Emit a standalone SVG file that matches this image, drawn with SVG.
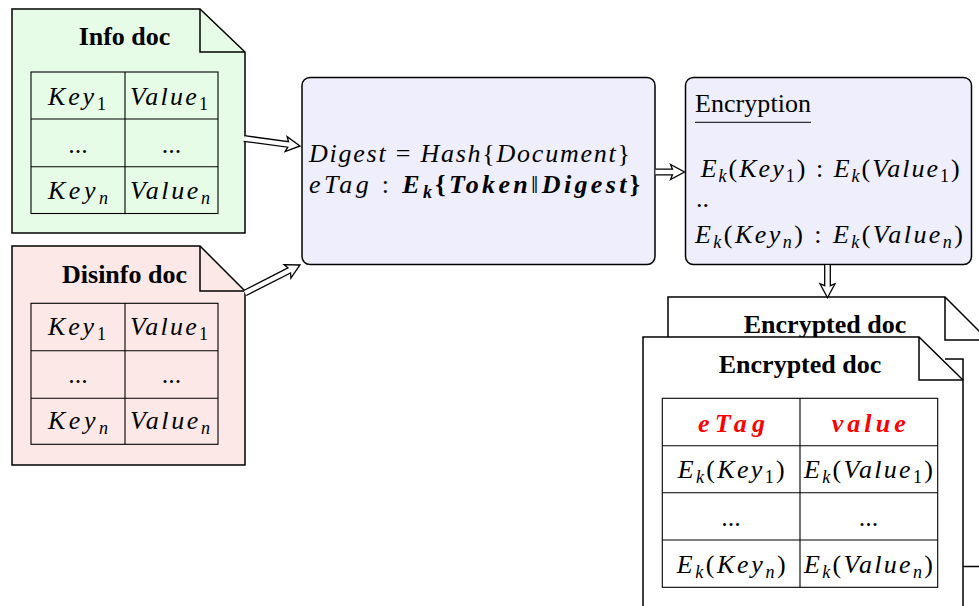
<svg xmlns="http://www.w3.org/2000/svg" width="979" height="606" viewBox="0 0 979 606">
<style>
text{font-family:"Liberation Serif","Times New Roman",serif;fill:#000}
.title{font-weight:bold;font-size:26px}
.m{font-size:26px}
.i{font-style:italic}
.b{font-weight:bold}
.sub{font-size:18px}
.red{fill:#ff0000}
.doc{stroke:#000;stroke-width:1.5}
.fold{fill:none;stroke:#000;stroke-width:1.5}
.tbl{fill:none;stroke:#000;stroke-width:1.1}
.box{fill:#eeeefc;stroke:#000;stroke-width:1.5}
.arr{fill:#fff;stroke:#000;stroke-width:1.3;stroke-linejoin:miter}
</style>
<rect width="979" height="606" fill="#fff"/>

<g id="info-doc">
<path class="doc" fill="#e6fce6" d="M12,9 H200 L245,52 V233 H12 Z"/>
<path class="fold" d="M200,9 V52 H245"/>
<text class="title" x="124.5" y="45" text-anchor="middle">Info doc</text>
<rect class="tbl" x="31" y="72" width="187" height="141.5"/>
<path class="tbl" d="M125,72 V213.5 M31,119 H218 M31,166.7 H218"/>
<text class="m" x="48" y="105" textLength="58" lengthAdjust="spacing"><tspan class="i">Key</tspan><tspan class="sub" dy="5">1</tspan></text>
<text class="m" x="130" y="105" textLength="78" lengthAdjust="spacing"><tspan class="i">Value</tspan><tspan class="sub" dy="5">1</tspan></text>
<text class="m" x="78" y="153" text-anchor="middle">...</text>
<text class="m" x="171.5" y="153" text-anchor="middle">...</text>
<text class="m" x="48" y="199" textLength="60" lengthAdjust="spacing"><tspan class="i">Key</tspan><tspan class="i sub" dy="5">n</tspan></text>
<text class="m" x="130" y="199" textLength="80" lengthAdjust="spacing"><tspan class="i">Value</tspan><tspan class="i sub" dy="5">n</tspan></text>
</g>

<g id="disinfo-doc">
<path class="doc" fill="#fde8e8" d="M12,246 H200 L245,291 V465 H12 Z"/>
<path class="fold" d="M200,246 V291 H245"/>
<text class="title" x="124.5" y="283" text-anchor="middle">Disinfo doc</text>
<rect class="tbl" x="31" y="303.3" width="187" height="141"/>
<path class="tbl" d="M125,303.3 V444.3 M31,350.7 H218 M31,398.3 H218"/>
<text class="m" x="48" y="335" textLength="58" lengthAdjust="spacing"><tspan class="i">Key</tspan><tspan class="sub" dy="5">1</tspan></text>
<text class="m" x="130" y="335" textLength="78" lengthAdjust="spacing"><tspan class="i">Value</tspan><tspan class="sub" dy="5">1</tspan></text>
<text class="m" x="78" y="383" text-anchor="middle">...</text>
<text class="m" x="171.5" y="383" text-anchor="middle">...</text>
<text class="m" x="48" y="429" textLength="60" lengthAdjust="spacing"><tspan class="i">Key</tspan><tspan class="i sub" dy="5">n</tspan></text>
<text class="m" x="130" y="429" textLength="80" lengthAdjust="spacing"><tspan class="i">Value</tspan><tspan class="i sub" dy="5">n</tspan></text>
</g>

<g id="hash-box">
<rect class="box" x="302" y="77.5" width="353" height="187" rx="8" ry="8"/>
<text class="m" x="309" y="162" textLength="321" lengthAdjust="spacing"><tspan class="i">Digest</tspan><tspan> = </tspan><tspan class="i">Hash</tspan><tspan>{</tspan><tspan class="i">Document</tspan><tspan>}</tspan></text>
<text class="m" x="309" y="193" textLength="331" lengthAdjust="spacing"><tspan class="i">eTag</tspan><tspan> : </tspan><tspan class="i b">E</tspan><tspan class="i b sub" dy="5">k</tspan><tspan class="b" dy="-5">{</tspan><tspan class="i b">Token</tspan><tspan>‖</tspan><tspan class="i b">Digest</tspan><tspan class="b">}</tspan></text>
</g>

<g id="encryption-box">
<rect class="box" x="685.5" y="77.5" width="286" height="187" rx="8" ry="8"/>
<text class="m" x="695" y="112" textLength="116" lengthAdjust="spacing">Encryption</text>
<line x1="695" y1="122.3" x2="811" y2="122.3" stroke="#000" stroke-width="1"/>
<text class="m" x="700.7" y="177" textLength="259" lengthAdjust="spacing"><tspan class="i">E</tspan><tspan class="i sub" dy="5">k</tspan><tspan dy="-5">(</tspan><tspan class="i">Key</tspan><tspan class="sub" dy="5">1</tspan><tspan dy="-5">) : </tspan><tspan class="i">E</tspan><tspan class="i sub" dy="5">k</tspan><tspan dy="-5">(</tspan><tspan class="i">Value</tspan><tspan class="sub" dy="5">1</tspan><tspan dy="-5">)</tspan></text>
<text class="m" x="696" y="207">..</text>
<text class="m" x="695" y="243" textLength="268" lengthAdjust="spacing"><tspan class="i">E</tspan><tspan class="i sub" dy="5">k</tspan><tspan dy="-5">(</tspan><tspan class="i">Key</tspan><tspan class="i sub" dy="5">n</tspan><tspan dy="-5">) : </tspan><tspan class="i">E</tspan><tspan class="i sub" dy="5">k</tspan><tspan dy="-5">(</tspan><tspan class="i">Value</tspan><tspan class="i sub" dy="5">n</tspan><tspan dy="-5">)</tspan></text>
</g>

<g id="encrypted-doc-back">
<path class="doc" fill="#fff" d="M668,620 V297 H945 L988,340 V620"/>
<path class="fold" d="M945,297 V340 H988"/>
<text class="title" x="825" y="333" text-anchor="middle">Encrypted doc</text>
<path class="fold" d="M963,566.5 H979"/>
<path class="fold" d="M945,359 H963 V380"/>
</g>

<g id="encrypted-doc">
<path class="doc" fill="#fff" d="M643,620 V337 H919 L963,380 V620"/>
<path class="fold" d="M919,337 V380 H963"/>
<text class="title" x="800" y="373" text-anchor="middle">Encrypted doc</text>
<rect class="tbl" x="662.3" y="398.3" width="275.4" height="189"/>
<path class="tbl" d="M800,398.3 V587.3 M662.3,445.7 H937.7 M662.3,492.7 H937.7 M662.3,540 H937.7"/>
<text class="m i b red" x="698" y="431.7" textLength="67" lengthAdjust="spacing">eTag</text>
<text class="m i b red" x="831.7" y="431.7" textLength="74" lengthAdjust="spacing">value</text>
<text class="m" x="677.7" y="478.3" textLength="107" lengthAdjust="spacing"><tspan class="i">E</tspan><tspan class="i sub" dy="5">k</tspan><tspan dy="-5">(</tspan><tspan class="i">Key</tspan><tspan class="sub" dy="5">1</tspan><tspan dy="-5">)</tspan></text>
<text class="m" x="804" y="478.3" textLength="129" lengthAdjust="spacing"><tspan class="i">E</tspan><tspan class="i sub" dy="5">k</tspan><tspan dy="-5">(</tspan><tspan class="i">Value</tspan><tspan class="sub" dy="5">1</tspan><tspan dy="-5">)</tspan></text>
<text class="m" x="731" y="526" text-anchor="middle">...</text>
<text class="m" x="868.5" y="526" text-anchor="middle">...</text>
<text class="m" x="676.7" y="573.3" textLength="109" lengthAdjust="spacing"><tspan class="i">E</tspan><tspan class="i sub" dy="5">k</tspan><tspan dy="-5">(</tspan><tspan class="i">Key</tspan><tspan class="i sub" dy="5">n</tspan><tspan dy="-5">)</tspan></text>
<text class="m" x="804" y="573.3" textLength="129" lengthAdjust="spacing"><tspan class="i">E</tspan><tspan class="i sub" dy="5">k</tspan><tspan dy="-5">(</tspan><tspan class="i">Value</tspan><tspan class="i sub" dy="5">n</tspan><tspan dy="-5">)</tspan></text>
</g>

<g id="connectors">
<path class="arr" transform="translate(244,138.5) rotate(7.6)" d="M0,-2.8 H44.5 L42.5,-7.5 L56.5,0 L42.5,7.5 L44.5,2.8 H0"/>
<path class="arr" transform="translate(245,293) rotate(-27)" d="M0,-2.8 H49.7 L47.7,-7.5 L61.7,0 L47.7,7.5 L49.7,2.8 H0"/>
<path class="arr" transform="translate(655.5,172)" d="M0,-2.8 H17 L15,-7.5 L29,0 L15,7.5 L17,2.8 H0"/>
<path class="arr" transform="translate(827.5,265) rotate(90)" d="M0,-2.8 H20.7 L18.7,-7.5 L32.7,0 L18.7,7.5 L20.7,2.8 H0"/>
</g>
</svg>
